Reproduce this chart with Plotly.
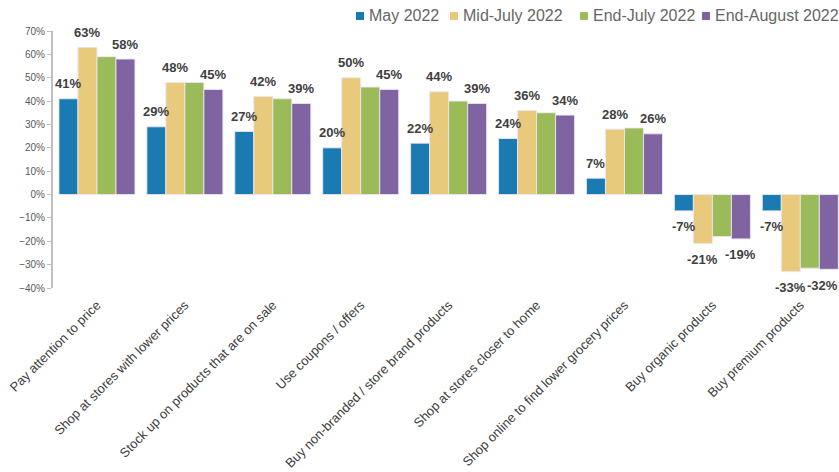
import plotly.graph_objects as go

categories = [
    "Pay attention to price",
    "Shop at stores with lower prices",
    "Stock up on products that are on sale",
    "Use coupons / offers",
    "Buy non-branded / store brand products",
    "Shop at stores closer to home",
    "Shop online to find lower grocery prices",
    "Buy organic products",
    "Buy premium products",
]
series_names = ["May 2022", "Mid-July 2022", "End-July 2022", "End-August 2022"]
may_2022 = [41, 29, 27, 20, 22, 24, 7, -7, -7]
mid_july_2022 = [63, 48, 42, 50, 44, 36, 28, -21, -33]
end_july_2022 = [59, 48, 41, 46, 40, 35, 28.5, -18, -31.5]
end_august_2022 = [58, 45, 39, 45, 39, 34, 26, -19, -32]
colors = ["#1a7bb3", "#e9c97b", "#9bbb59", "#8064a2"]
labelled = [True, True, False, True]  # End-July bars carry no value labels

all_series = [may_2022, mid_july_2022, end_july_2022, end_august_2022]
x_pos = list(range(len(categories)))

# figure geometry (pixels)
W, H = 839, 472
M_L, M_R, M_T, M_B = 53, 0, 31, 184
PW, PH = W - M_L - M_R, H - M_T - M_B
X_RANGE = [-0.5, 8.44]

BARGAP = 0.135
bar_w = (1 - BARGAP) / len(all_series)


def data_x_to_px(x):
    return M_L + (x - X_RANGE[0]) / (X_RANGE[1] - X_RANGE[0]) * PW


fig = go.Figure()
annotations = []
shapes = []
for k, (name, vals, col) in enumerate(zip(series_names, all_series, colors)):
    fig.add_trace(go.Bar(
        x=x_pos, y=vals, name=name, showlegend=False,
        marker=dict(color=col, line=dict(color="rgba(235,230,245,0.9)", width=1)),
    ))
    if labelled[k]:
        off = (k - (len(all_series) - 1) / 2) * bar_w
        for i, v in enumerate(vals):
            # keep labels near the right edge fully inside the figure
            overflow = data_x_to_px(i + off) + 16 - W
            annotations.append(dict(
                x=i + off, y=v, xref="x", yref="y",
                text=f"{v:.0f}%", showarrow=False,
                yshift=15 if v >= 0 else -16,
                xshift=-overflow if overflow > 0 else 0,
                font=dict(family="Liberation Sans, Arial", size=13, color="#404040", weight="bold"),
            ))

# legend row across the top: small colour square followed by the series name
def px_to_paper_x(px):
    return (px - M_L) / PW


def px_to_paper_y(py):
    return (H - M_B - py) / PH


legend_left = [356, 450, 580, 702]
legend_y = 16
sq = 8
for name, col, left in zip(series_names, colors, legend_left):
    shapes.append(dict(
        type="rect", xref="paper", yref="paper",
        x0=px_to_paper_x(left), x1=px_to_paper_x(left + sq),
        y0=px_to_paper_y(legend_y + sq / 2), y1=px_to_paper_y(legend_y - sq / 2),
        fillcolor=col, line=dict(width=0),
    ))
    annotations.append(dict(
        x=px_to_paper_x(left + sq + 3), y=px_to_paper_y(legend_y),
        xref="paper", yref="paper", xanchor="left", yanchor="middle",
        text=name, showarrow=False,
        font=dict(family="Liberation Sans, Arial", size=16, color="#666666"),
    ))

fig.update_layout(
    width=W, height=H,
    margin=dict(l=M_L, r=M_R, t=M_T, b=M_B),
    paper_bgcolor="white", plot_bgcolor="white",
    barmode="group", bargap=BARGAP, bargroupgap=0,
    font=dict(family="Liberation Sans, Arial", color="#595959"),
    annotations=annotations,
    shapes=shapes,
    showlegend=False,
)
fig.update_xaxes(
    range=X_RANGE, tickvals=x_pos, ticktext=categories,
    tickangle=-45, showgrid=False, zeroline=False, showline=False,
    ticks="", ticklabelstandoff=6,
    tickfont=dict(size=13, color="#404040"),
)
fig.update_yaxes(
    range=[-40, 70], dtick=10, ticksuffix="%",
    showgrid=False, zeroline=False,
    showline=True, linecolor="#bfbfbf", linewidth=2,
    ticks="outside", ticklen=4, tickcolor="#bfbfbf",
    tickfont=dict(size=10, color="#595959"),
)

fig.write_html("out.html")
